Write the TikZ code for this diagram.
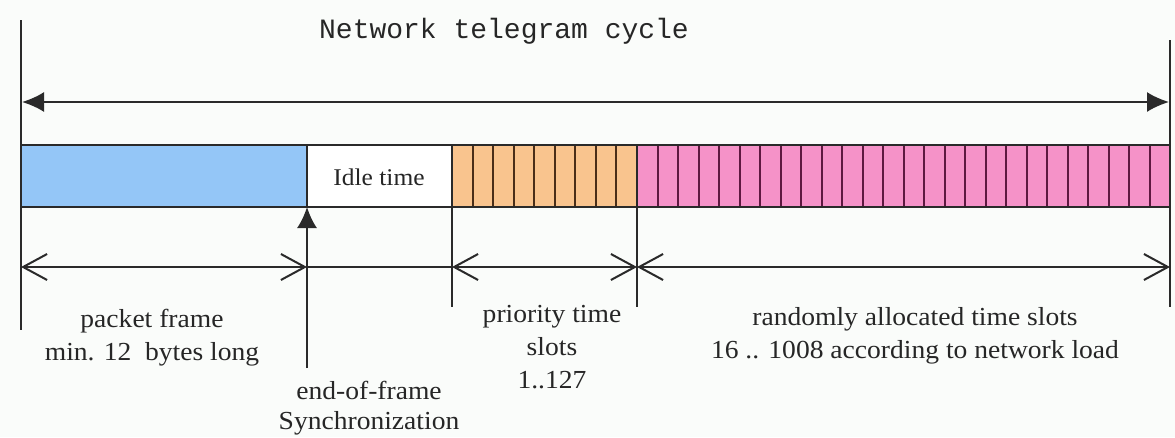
\documentclass[tikz,border=0pt]{standalone}
\usepackage{fontspec}
\setmainfont[FakeStretch=1.06]{Liberation Serif}
\setmonofont{Liberation Mono}
\usetikzlibrary{arrows.meta}
\definecolor{lnc}{HTML}{2A2A2A}
\definecolor{txt}{HTML}{262626}
\definecolor{blu}{HTML}{94C6F7}
\definecolor{org}{HTML}{F9C48E}
\definecolor{pnk}{HTML}{F592C8}
\definecolor{slotO}{HTML}{4A2E18}
\definecolor{slotP}{HTML}{5E1840}
\definecolor{bg}{HTML}{FAFCFA}
\begin{document}
\begin{tikzpicture}[x=1pt,y=-1pt,
  line width=2pt, draw=lnc,
  seg/.style={draw=lnc, line width=2pt, minimum height=62pt, inner sep=0pt, outer sep=0pt, anchor=north west},
  slotline/.style={line width=2pt},
  cyclearrow/.style={{Latex[length=22pt,width=20pt]}-{Latex[length=22pt,width=20pt]}},
  dimarrow/.style={{Straight Barb[length=24pt,width=26pt,line width=2pt]}-{Straight Barb[length=24pt,width=26pt,line width=2pt]}},
  syncarrow/.style={-{Latex[length=21pt,width=20pt]}},
  lbl/.style={font=\fontsize{26}{33}\selectfont, align=center, text=txt, inner sep=0pt, anchor=base},
  ttl/.style={font=\ttfamily\fontsize{28}{30}\selectfont, text=txt, inner sep=0pt, anchor=base}
]
\useasboundingbox[fill=bg] (0,0) rectangle (1175,437);
\clip (0,0) rectangle (1175,437);

% bar segments
\node[seg, fill=blu, minimum width=286pt] (frame) at (21,145) {};
\node[seg, fill=white, minimum width=145pt] (idle) at (307,145) {};
\node[seg, fill=org, minimum width=185pt] (prio) at (452,145) {};
\node[seg, fill=pnk, minimum width=533pt] (rand) at (637,145) {};
\foreach \i in {1,...,8} {
  \pgfmathsetmacro\xx{452+\i*185/9}
  \draw[slotline, slotO] (\xx,146) -- (\xx,206);
}
\foreach \i in {1,...,25} {
  \pgfmathsetmacro\xx{637+\i*533/26}
  \draw[slotline, slotP] (\xx,146) -- (\xx,206);
}
\node[font=\fontsize{24}{26}\selectfont, text=txt, inner sep=0pt] (idletxt) at (379,177) {Idle time};

% title and cycle arrow
\node[ttl] (title) at (504,38) {Network telegram cycle};
\coordinate (Ltop) at (21,20);
\coordinate (Lbot) at (21,330);
\coordinate (Rtop) at (1170,40);
\coordinate (Rbot) at (1170,307);
\draw (Ltop) -- (Lbot);
\draw (Rtop) -- (Rbot);
\coordinate (cl) at (22,102);
\coordinate (cr) at (1169,102);
\draw[cyclearrow] (cl) -- (cr);

% ticks under the bar
\coordinate (syncend) at (307,368);
\coordinate (t2) at (452,307);
\coordinate (t3) at (637,307);
\draw[syncarrow] (syncend) -- (frame.south east);
\draw (prio.south west) -- (t2);
\draw (prio.south east) -- (t3);

% dimension line
\coordinate (d0) at (21,267);
\coordinate (d1) at (307,267);
\coordinate (d2) at (452,267);
\coordinate (d3) at (637,267);
\coordinate (d4) at (1170,267);
\draw[dimarrow] (d0) -- (d1);
\draw (d1) -- (d2);
\draw[dimarrow] (d2) -- (d3);
\draw[dimarrow] (d3) -- (d4);

% labels (anchor = baseline of the last line)
\node[lbl] (pf) at (152,360) {packet frame\\min. 12\ \ bytes long};
\node[lbl, font=\fontsize{26}{30}\selectfont] (eof) at (369,429) {end-of-frame\\Synchronization};
\node[lbl] (pts) at (552,388) {priority time\\slots\\1..127};
\node[lbl] (rts) at (915,358) {randomly allocated time slots\\16 .. 1008 according to network load};
\end{tikzpicture}
\end{document}
